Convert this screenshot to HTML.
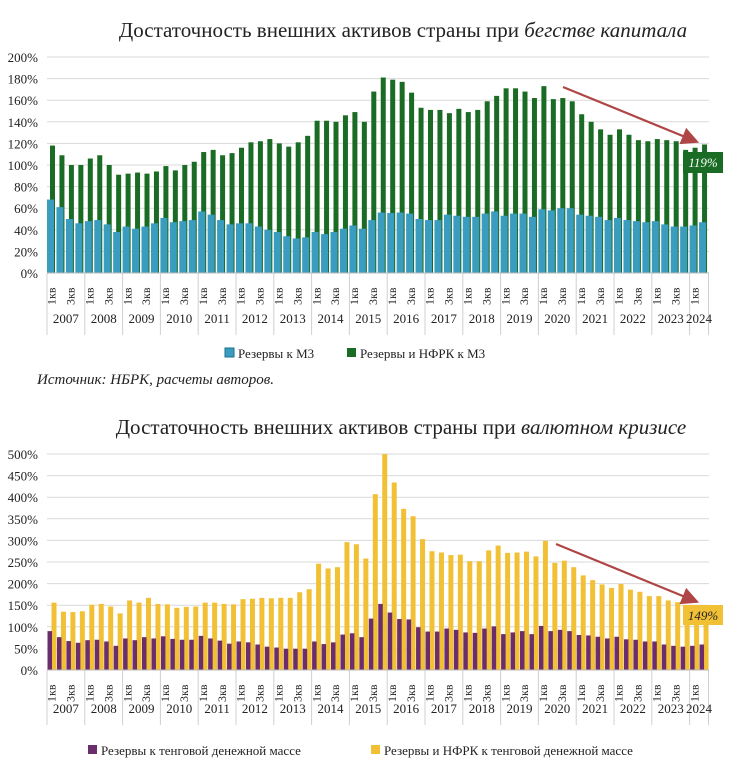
<!DOCTYPE html>
<html><head><meta charset="utf-8"><style>
body{margin:0;background:#fff;width:745px;height:768px;overflow:hidden}
svg{display:block}
text{font-family:"Liberation Serif",serif;fill:#222}
</style></head><body>
<svg id="s" width="745" height="768" xmlns="http://www.w3.org/2000/svg">
<text x="403" y="37" font-size="21" text-anchor="middle">Достаточность внешних активов страны при <tspan font-style="italic">бегстве капитала</tspan></text>
<text x="401" y="434" font-size="21" text-anchor="middle">Достаточность внешних активов страны при <tspan font-style="italic">валютном кризисе</tspan></text>
<text x="37" y="384" font-size="15" font-style="italic">Источник: НБРК, расчеты авторов.</text>
<rect x="225" y="348" width="9" height="9" fill="#3a9cbf" stroke="#1d6f8c"/>
<text x="238" y="358" font-size="13">Резервы к М3</text>
<rect x="347" y="348" width="9" height="9" fill="#1a6b24"/>
<text x="360" y="358" font-size="13">Резервы и НФРК к М3</text>
<rect x="88" y="745" width="9" height="9" fill="#6b2d6b"/>
<text x="101" y="755" font-size="13">Резервы к тенговой денежной массе</text>
<rect x="371" y="745" width="9" height="9" fill="#f2c035"/>
<text x="384" y="755" font-size="13">Резервы и НФРК к тенговой денежной массе</text>
<g id="g"></g>
</svg>
<script>
var G=[118,109,100,100,106,109,100,91,92,93,92,94,99,95,100,103,112,114,109,111,116,121,122,124,120,117,121,127,141,141,140,146,149,140,168,181,179,177,167,153,151,151,148,152,149,151,159,164,171,171,168,162,173,161,162,159,147,140,133,128,133,128,123,122,124,123,122,114,116,119];
var B=[68,61,50,46,48,49,45,38,43,41,43,46,51,47,48,49,57,54,49,45,46,46,43,40,38,34,32,33,38,36,38,41,44,41,49,56,55.5,56,55,50,49,49,54,53,52,52,55,57,53,55,55,52,59,58,60,60,54,53,52,49,51,49,48,47,48,45,43,43,44,47];
var Y=[156,135,134,136,151,153,147,131,161,156,167,153,152,144,146,147,156,156,153,152,164,165,167,166,167,167,180,187,246,235,238,296,291,258,407,500,434,373,356,303,275,272,266,267,252,252,277,288,271,272,274,263,299,248,253,238,219,208,198,190,199,186,181,171,171,161,157,147,143,149];
var P=[90,76,67,63,69,70,66,56,73,69,76,73,78,72,70,70,79,73,68,61,66,64,59,54,52,49,49,49,66,60,64,82,85,76,119,153,133,118,117,99,89,89,96,93,87,86,96,101,83,87,90,83,102,90,93,90,81,80,77,73,77,71,70,66,66,59,56,54,56,59];
var x0=47,w=9.45,h='';
function chart(base,sc,step,max,lab,labY,yrY,A,Bv,ca,cb,oa,wa,ob,wb){
 for(var v=0;v<=max;v+=step){var y=base-v*sc;
  h+='<line x1="'+x0+'" x2="709" y1="'+y+'" y2="'+y+'" stroke="#d9d9d9" stroke-width="1"/>';
  h+='<text x="38" y="'+(y+5)+'" font-size="13" text-anchor="end">'+v+'%</text>';}
 for(var i=0;i<70;i++){var s=x0+i*w;
  h+='<rect x="'+(s+oa)+'" y="'+(base-A[i]*sc)+'" width="'+wa+'" height="'+(A[i]*sc)+'" fill="'+ca+'"/>';
  h+='<rect x="'+(s+ob)+'" y="'+(base-Bv[i]*sc)+'" width="'+wb+'" height="'+(Bv[i]*sc)+'" fill="'+cb+'"/>';
  if(i%4==0||i%4==2){var lx=s+w/2+4;h+='<text transform="translate('+lx+','+(labY)+') rotate(-90)" font-size="12">'+(i%4==0?'1':'3')+'кв</text>';}
 }
 for(var k=0;k<=18;k++){var lx=x0+Math.min(k*4,70)*w;h+='<line x1="'+lx+'" x2="'+lx+'" y1="'+base+'" y2="'+(yrY+12)+'" stroke="#d0d0d0"/>';if(k==18)break;}
 for(var k=0;k<18;k++){var c=x0+(k*4+(k==17?1:2))*w;h+='<text x="'+c+'" y="'+yrY+'" font-size="13" text-anchor="middle">'+(2007+k)+'</text>';}
 h+='<line x1="'+x0+'" x2="709" y1="'+base+'" y2="'+base+'" stroke="#bbb"/>';
}
chart(273,1.08,20,200,0,305,323,G,B,'#1a6b24','#3a9cbf',3,5,0,7);
chart(670,0.432,50,500,0,702,713,Y,P,'#f2c035','#6b2d6b',4.5,5,0.5,4.5);
h+='<defs><marker id="m" markerWidth="8" markerHeight="8" refX="6" refY="4" orient="auto"><path d="M0,0 L8,4 L0,8 z" fill="#b04545"/></marker></defs>';
h+='<line x1="563" y1="87" x2="695" y2="141" stroke="#b04545" stroke-width="2.2" marker-end="url(#m)"/>';
h+='<line x1="556" y1="544" x2="695" y2="601" stroke="#b04545" stroke-width="2.2" marker-end="url(#m)"/>';
h+='<rect x="683" y="152" width="40" height="21" fill="#1a6b24"/><text x="703" y="167" font-size="13" font-style="italic" text-anchor="middle" style="fill:#fff">119%</text>';
h+='<rect x="683" y="605" width="40" height="20" fill="#f2c035"/><text x="703" y="620" font-size="13" font-style="italic" text-anchor="middle">149%</text>';
document.getElementById('g').innerHTML=h;
</script>
</body></html>
